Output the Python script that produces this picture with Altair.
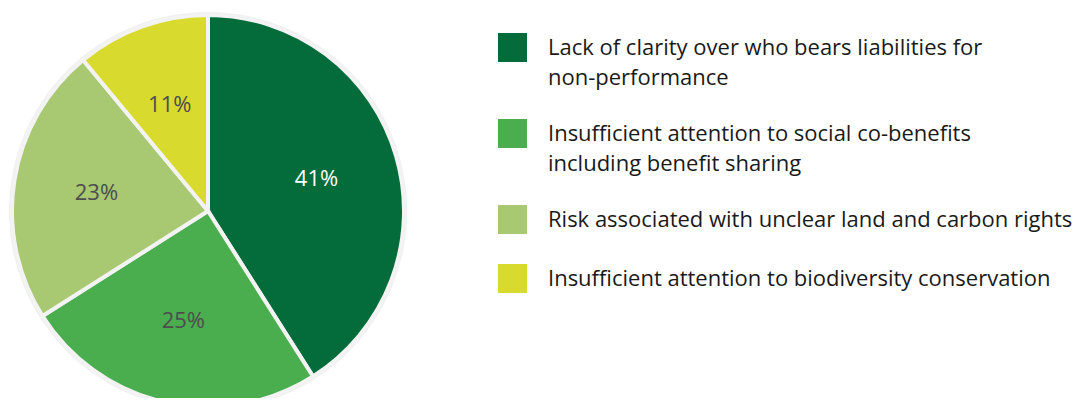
import altair as alt
import pandas as pd

categories = [
    "Lack of clarity over who bears liabilities for|non-performance",
    "Insufficient attention to social co-benefits|including benefit sharing",
    "Risk associated with unclear land and carbon rights",
    "Insufficient attention to biodiversity conservation",
]
shares = [41, 25, 23, 11]
colors = ["#046c3a", "#4aae4f", "#a8c871", "#d8db2e"]

df = pd.DataFrame({
    "category": categories,
    "share": shares,
    "rank": list(range(len(categories))),
    "label": [f"{s}%" for s in shares],
})

CX, CY, R = 200, 203, 196
FONT = "Open Sans"

base = alt.Chart(df).encode(
    theta=alt.Theta("share:Q", stack=True),
    order=alt.Order("rank:Q", sort="ascending"),
)

ring = alt.Chart(df).mark_arc(radius=R + 3, color="#f0f0f0").encode(
    theta=alt.Theta("sum(share):Q"),
    x=alt.value(CX), y=alt.value(CY),
)

pie = base.mark_arc(radius=R, stroke="#f3f3f3", strokeWidth=4).encode(
    color=alt.Color(
        "category:N",
        scale=alt.Scale(domain=categories, range=colors),
        legend=alt.Legend(
            title=None, orient="none", legendX=490, legendY=25,
            symbolType="square", symbolSize=841, symbolStrokeWidth=0,
            symbolOpacity=1,
            labelFont=FONT, labelFontSize=22, labelColor="#1a1a1a",
            labelOffset=21, labelLimit=0, rowPadding=30, padding=0,
            labelExpr="split(datum.label, '|')",
        ),
    ),
    x=alt.value(CX), y=alt.value(CY),
)

text = base.mark_text(radius=113, fontSize=22, font=FONT).encode(
    text="label:N",
    color=alt.condition(alt.datum.rank == 0, alt.value("white"), alt.value("#4d4d4d")),
    x=alt.value(CX), y=alt.value(CY),
)

chart = alt.layer(ring, pie, text).properties(
    width=1073, height=390, autosize="none", padding=0
).configure(
    view={"stroke": None},
    style={"guide-label": {"lineHeight": 30}},
)

chart.save("out.html", embed_options={"renderer": "svg", "actions": False})
